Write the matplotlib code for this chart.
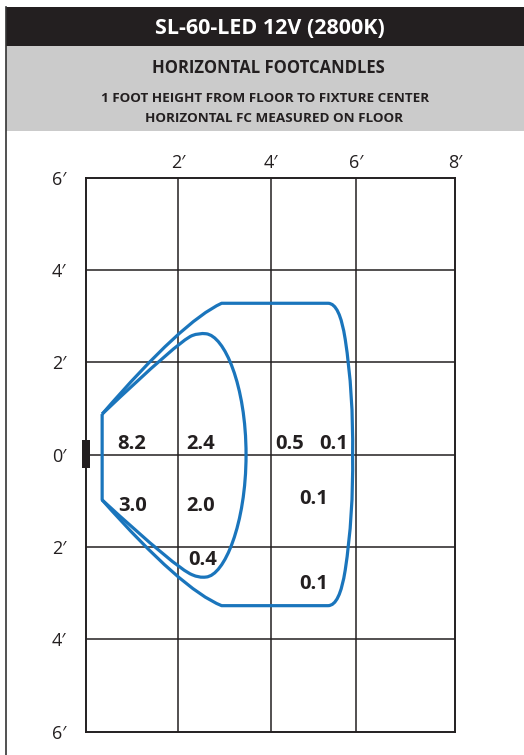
import matplotlib.pyplot as plt
from matplotlib.patches import Rectangle, PathPatch
from matplotlib.path import Path

# footcandle readings: (value, x ft, y ft)
fc_values = ["8.2", "2.4", "0.5", "0.1", "3.0", "2.0", "0.1", "0.4", "0.1"]
fc_x = [0.99, 2.49, 4.42, 5.37, 1.01, 2.49, 4.93, 2.54, 4.93]
fc_y = [0.24, 0.24, 0.24, 0.24, -1.11, -1.11, -0.96, -2.28, -2.79]

# iso-footcandle contours (feet): vertices + path codes (bezier control points included)
M, L, Q, C = Path.MOVETO, Path.LINETO, Path.CURVE3, Path.CURVE4
outer_pts = [(0.35, 0.88), (2.1, 2.9), (2.94, 3.28), (5.25, 3.28),
             (5.5, 3.28), (5.62, 2.5), (5.80, 1.33), (5.78, 0.0),
             (5.80, -1.33), (5.62, -2.5), (5.5, -3.27), (5.25, -3.27),
             (2.94, -3.27), (2.08, -2.93), (0.35, -0.98), (0.35, 0.88)]
outer_codes = [M, Q, Q, L, Q, Q, Q, Q, Q, Q, Q, Q, L, Q, Q, L]
inner_pts = [(0.35, 0.88), (2.02, 2.47), (2.3, 2.58), (2.45, 2.64), (2.6, 2.62),
             (3.0, 2.58), (3.47, 1.5), (3.47, 0.0),
             (3.47, -1.5), (3.0, -2.62), (2.6, -2.65), (2.45, -2.67), (2.3, -2.6),
             (1.97, -2.47), (0.35, -0.98)]
inner_codes = [M, Q, Q, Q, Q, C, C, C, C, C, C, Q, Q, Q, Q]

x_grid = [0, 2, 4, 5.86, 8]
x_labels = ["", "2\u2032", "4\u2032", "6\u2032", "8\u2032"]
y_grid = [6, 4, 2, 0, -2, -4, -6]
y_labels = ["6\u2032", "4\u2032", "2\u2032", "0\u2032", "2\u2032", "4\u2032", "6\u2032"]

title = "SL-60-LED 12V (2800K)"
subtitle = "HORIZONTAL FOOTCANDLES"
note1 = "1 FOOT HEIGHT FROM FLOOR TO FIXTURE CENTER"
note2 = "HORIZONTAL FC MEASURED ON FLOOR"

dark = "#231f20"
blue = "#1a75bc"
W, H = 524, 755
font = ["Open Sans", "DejaVu Sans"]

fig = plt.figure(figsize=(W / 100, H / 100), dpi=100)

# header bands and frame (figure pixel coords)
fig.patches.append(Rectangle((6 / W, 1 - 46 / H), 1, 39 / H, transform=fig.transFigure,
                             facecolor=dark, edgecolor="none"))
fig.patches.append(Rectangle((6 / W, 1 - 131 / H), 1, 85 / H, transform=fig.transFigure,
                             facecolor="#cbcbcb", edgecolor="none"))
fig.lines.append(plt.Line2D([6 / W, 6 / W], [0, 1 - 7 / H], transform=fig.transFigure,
                            color="#333333", lw=1.2))

fig.text(270 / W, 1 - 28 / H, title, color="white", fontsize=15.5, fontweight="bold",
         ha="center", va="center", family=font)
fig.text(268 / W, 1 - 68 / H, subtitle, color=dark, fontsize=12, fontweight="bold",
         ha="center", va="center", family=font)
fig.text(265 / W, 1 - 99 / H, note1, color=dark, fontsize=9.7, fontweight="bold",
         ha="center", va="center", family=font)
fig.text(274 / W, 1 - 118 / H, note2, color=dark, fontsize=9.7, fontweight="bold",
         ha="center", va="center", family=font)

ax = fig.add_axes([86 / W, 1 - 731.7 / H, (455 - 86) / W, (731.7 - 177.7) / H])
ax.set_xlim(0, 8)
ax.set_ylim(-6, 6)
for s in ax.spines.values():
    s.set_linewidth(1.4)
    s.set_color(dark)
for gx in x_grid[1:-1]:
    ax.axvline(gx, color=dark, lw=1.1, zorder=1)
for gy in y_grid[1:-1]:
    ax.axhline(gy, color=dark, lw=1.1, zorder=1)

ax.set_xticks(x_grid, x_labels, family=font, fontsize=13, color=dark)
ax.set_yticks(y_grid, y_labels, family=font, fontsize=13, color=dark)
ax.xaxis.tick_top()
ax.tick_params(axis="both", length=0)
ax.tick_params(axis="x", pad=4)
ax.tick_params(axis="y", pad=14)

for pts, codes in [(outer_pts, outer_codes), (inner_pts, inner_codes)]:
    ax.add_patch(PathPatch(Path(pts, codes), facecolor="none", edgecolor=blue, lw=2.3,
                           joinstyle="round", zorder=3))

ax.add_patch(Rectangle((-0.08, -0.29), 0.16, 0.6, facecolor=dark, edgecolor="none",
                       clip_on=False, zorder=5))

for v, x, y in zip(fc_values, fc_x, fc_y):
    ax.text(x, y, v, fontsize=14.5, fontweight="bold", color=dark, ha="center",
            va="center", family=font, zorder=4)

fig.savefig("out.png", dpi=100)
